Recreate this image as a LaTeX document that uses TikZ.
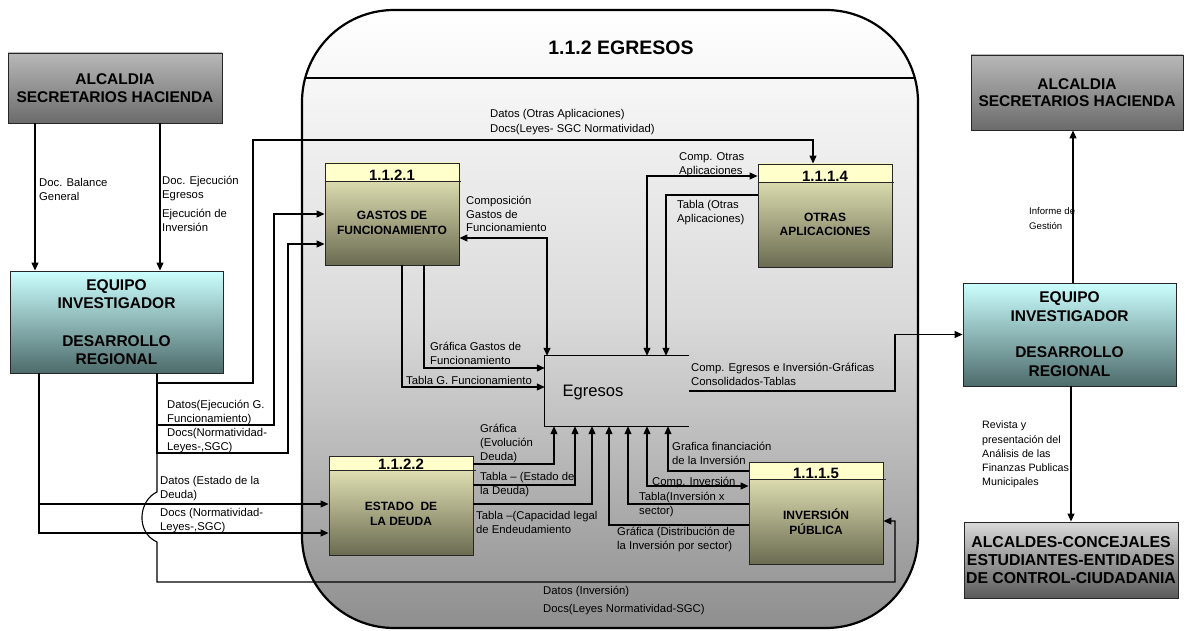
\documentclass[tikz,border=0pt]{standalone}
\usepackage{fontspec}
\setmainfont{Liberation Sans}
\usetikzlibrary{arrows.meta,calc}
\definecolor{hdrcol}{HTML}{FFFFCC}
\definecolor{ptop}{HTML}{F2F2C2}
\definecolor{pbot}{HTML}{6B6B52}
\definecolor{ctop}{HTML}{CCFFFF}
\definecolor{cbot}{HTML}{4D6B6B}
\definecolor{gtop}{HTML}{B8B8B8}
\definecolor{gbot}{HTML}{6B6B6B}
\definecolor{atop}{HTML}{DADADA}
\definecolor{abot}{HTML}{5A5A5A}
\definecolor{kmid}{HTML}{DADADA}
\definecolor{kbot}{HTML}{8E8E8E}
\begin{document}
\begin{tikzpicture}[x=1pt,y=-1pt,
  tip/.tip={Triangle[length=8pt,width=7pt]},
  plain/.style={line width=1.1pt},
  conn/.style={line width=1.1pt,-tip},
  conn2/.style={line width=1.1pt,tip-tip},
  ext/.style={draw=black!85,line width=0.9pt,inner sep=0pt,align=center,
    font=\bfseries\fontsize{15.5}{17.5}\selectfont},
  proc/.style={draw=black!85,line width=0.9pt,inner sep=0pt,
    top color=ptop,bottom color=pbot,
    path picture={\fill[hdrcol] (path picture bounding box.north west)
      rectangle ([yshift=-#1pt]path picture bounding box.north east);}},
  hline/.style={line width=0.9pt,draw=black!85},
  hnum/.style={anchor=base,inner sep=0pt,font=\bfseries\fontsize{15}{18}\selectfont},
  ptext/.style={align=center,inner sep=0pt,font=\bfseries\fontsize{12}{14.5}\selectfont},
  lbl/.style={anchor=north west,inner sep=0pt,align=left,
    font=\fontsize{11.3}{13.8}\selectfont,execute at begin node=\strut},
]
\useasboundingbox (0,0) rectangle (1185,631);

% process container 1.1.2
\node[draw,line width=2.2pt,rounded corners=92pt,inner sep=0pt,
  minimum width=616,minimum height=618,
  top color=white,bottom color=kbot,middle color=kmid] (egr) at (610,319) {};
\draw[line width=1.4pt] (306,78) -- (914,78);
\node[font=\bfseries\fontsize{19.5}{22}\selectfont] (ttl) at (621,48) {1.1.2 EGRESOS};

% external entities
\node[ext,top color=gtop,bottom color=gbot,minimum width=214,minimum height=70]
  (alcL) at (115,88) {ALCALDIA\\SECRETARIOS HACIENDA};
\node[ext,top color=ctop,bottom color=cbot,minimum width=213,minimum height=102]
  (eqL) at (116.5,322) {EQUIPO\\INVESTIGADOR\\[21pt]DESARROLLO\\REGIONAL};
\node[ext,top color=gtop,bottom color=gbot,minimum width=212,minimum height=75]
  (alcR) at (1077,92.5) {ALCALDIA\\SECRETARIOS HACIENDA};
\node[ext,font=\bfseries\fontsize{15.5}{19}\selectfont,top color=ctop,bottom color=cbot,
  minimum width=213,minimum height=103]
  (eqR) at (1069.5,334.5) {EQUIPO\\INVESTIGADOR\\[17pt]DESARROLLO\\REGIONAL};
\node[ext,font=\bfseries\fontsize{15.8}{18}\selectfont,top color=atop,bottom color=abot,
  minimum width=214,minimum height=76]
  (ald) at (1071,560) {ALCALDES-CONCEJALES\\ESTUDIANTES-ENTIDADES\\DE CONTROL-CIUDADANIA};

% sub-processes
\node[proc=19,minimum width=134,minimum height=102] (ga) at (392,214) {};
\draw[hline] ($(ga.north west)+(0,19)$) -- ++(136,0);
\node[hnum] (gan) at (392,181) {1.1.2.1};
\node[ptext] (gat) at (392,223) {GASTOS DE\\FUNCIONAMIENTO};

\node[proc=19,minimum width=134,minimum height=103] (ot) at (825,215.5) {};
\draw[hline] ($(ot.north west)+(0,19)$) -- ++(136,0);
\node[hnum] (otn) at (825,181.5) {1.1.1.4};
\node[ptext] (ott) at (825,224.5) {OTRAS\\APLICACIONES};

\node[proc=15,minimum width=144,minimum height=99] (es) at (401,505.5) {};
\draw[hline] ($(es.north west)+(0,15)$) -- ++(147,0);
\node[hnum] (esn) at (401,469.5) {1.1.2.2};
\node[ptext] (est) at (401,514) {ESTADO~ DE\\LA DEUDA};

\node[proc=18,minimum width=134,minimum height=102] (inv) at (816,513) {};
\draw[hline] ($(inv.north west)+(0,18)$) -- ++(137,0);
\node[hnum] (invn) at (816,478.5) {1.1.1.5};
\node[ptext] (invt) at (816,521.5) {INVERSIÓN\\PÚBLICA};

% data store
\node[minimum width=144,minimum height=70,inner sep=0pt] (eg) at (617,391) {};
\draw[plain] (eg.north east) -- (eg.north west) -- (eg.south west) -- (eg.south east);
\node[anchor=base,inner sep=0pt,font=\fontsize{16.6}{20}\selectfont] (egt) at (593,396) {Egresos};

% flows of the left entities
\draw[conn] (alcL.south -| 35,0) -- (eqL.north -| 35,0);
\draw[conn] (alcL.south -| 160,0) -- (eqL.north -| 160,0);
\draw[conn] (eqL.south -| 157,0) |- (253,383) |- (813,140) -- (ot.north -| 813,0);
\draw[conn] (eqL.south -| 157,0) |- (274,425) |- (ga.west |- 0,214);
\draw[conn] (eqL.south -| 157,0) |- (288,453) |- (ga.west |- 0,244);
\draw[conn] (eqL.south -| 157,0) -- (157,492) .. controls (139,500) and (135,532) .. (157,542)
  -- (157,582) -| (895,521) -- (inv.east |- 0,521);
\draw[conn] (eqL.south -| 39,0) |- (es.west |- 0,504);
\draw[conn] (eqL.south -| 39,0) |- (es.west |- 0,533);

% flows into the data store
\draw[conn2] (ga.east |- 0,238) -| (eg.north -| 547,0);
\draw[conn] (ga.south -| 424,0) |- (eg.west |- 0,368);
\draw[conn] (ga.south -| 402,0) |- (eg.west |- 0,387);
\draw[conn2] (ot.west |- 0,176) -| (eg.north -| 647,0);
\draw[conn] (ot.west |- 0,195) -| (eg.north -| 666,0);
\draw[conn] (es.east |- 0,464) -| (eg.south -| 554,0);
\draw[conn] (es.east |- 0,485) -| (eg.south -| 575,0);
\draw[conn] (es.east |- 0,504) -| (eg.south -| 592,0);
\draw[conn] (inv.west |- 0,525) -| (eg.south -| 609,0);
\draw[conn] (inv.west |- 0,504) -| (eg.south -| 628,0);
\draw[conn2] (inv.west |- 0,486) -| (eg.south -| 647,0);
\draw[conn] (inv.west |- 0,471) -| (eg.south -| 668,0);

% outputs
\draw[conn] (eg.east) -- (895,391) |- (eqR.west);
\draw[conn] (eqR.north -| 1073,0) -- (alcR.south -| 1073,0);
\draw[conn] (eqR.south -| 1071,0) -- (ald.north -| 1071,0);

% flow labels
\node[lbl] (l1) at (39,178.3) {Doc. Balance\\General};
\node[lbl] (l2) at (162,176.3) {Doc. Ejecución\\Egresos};
\node[lbl] (l3) at (162,209.3) {Ejecución de\\Inversión};
\node[lbl,font=\fontsize{11.3}{15}\selectfont] (l4) at (490,109.5)
  {Datos (Otras Aplicaciones)\\Docs(Leyes- SGC Normatividad)};
\node[lbl] (l5) at (466,195.8) {Composición\\Gastos de\\Funcionamiento};
\node[lbl] (l6) at (679,152.3) {Comp. Otras\\Aplicaciones};
\node[lbl] (l7) at (677,200.3) {Tabla (Otras\\Aplicaciones)};
\node[lbl] (l8) at (430,342.3) {Gráfica Gastos de\\Funcionamiento};
\node[lbl] (l9) at (406,374.3) {Tabla G. Funcionamiento};
\node[lbl] (l10) at (691,363.3) {Comp. Egresos e Inversión-Gráficas\\Consolidados-Tablas};
\node[lbl,font=\fontsize{9.6}{15}\selectfont] (l11) at (1029,207.5) {Informe de\\Gestión};
\node[lbl,font=\fontsize{10.7}{14.2}\selectfont] (l12) at (982,420.9)
  {Revista y\\presentación del\\Análisis de las\\Finanzas Publicas\\Municipales};
\node[lbl] (l13) at (167,400.3) {Datos(Ejecución G.\\Funcionamiento)};
\node[lbl] (l14) at (167,428.3) {Docs(Normatividad-\\Leyes-,SGC)};
\node[lbl] (l15) at (160,476.3) {Datos (Estado de la\\Deuda)};
\node[lbl] (l16) at (160,508.3) {Docs (Normatividad-\\Leyes-,SGC)};
\node[lbl] (l17) at (480,424.3) {Gráfica\\(Evolución\\Deuda)};
\node[lbl] (l18) at (480,472.3) {Tabla – (Estado de\\la Deuda)};
\node[lbl] (l19) at (476,511.3) {Tabla –(Capacidad legal\\de Endeudamiento};
\node[lbl] (l20) at (672,442.3) {Grafica financiación\\de la Inversión};
\node[lbl] (l21) at (652,475.3) {Comp. Inversión};
\node[lbl] (l22) at (639,492.3) {Tabla(Inversión x\\sector)};
\node[lbl] (l23) at (617,527.3) {Gráfica (Distribución de\\la Inversión por sector)};
\node[lbl,font=\fontsize{11.3}{18}\selectfont] (l24) at (543,586.4)
  {Datos (Inversión)\\Docs(Leyes Normatividad-SGC)};
\end{tikzpicture}
\end{document}
